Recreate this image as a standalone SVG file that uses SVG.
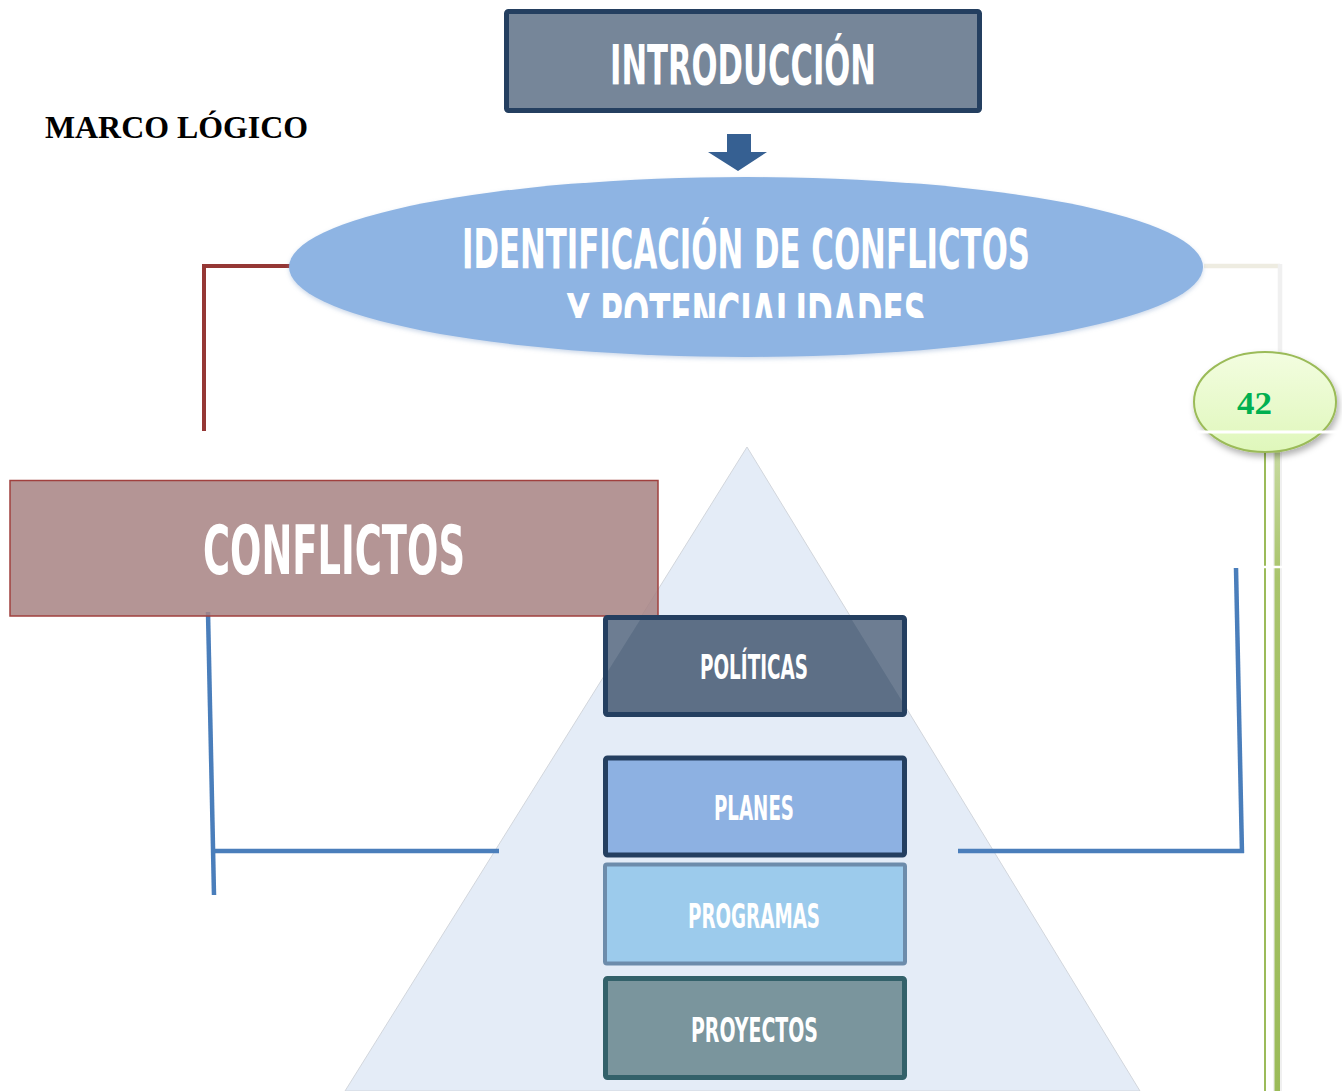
<svg xmlns="http://www.w3.org/2000/svg" width="1342" height="1091" viewBox="0 0 1342 1091">
<defs>
<style>
.cond{font-family:"DejaVu Sans Condensed","DejaVu Sans","Liberation Sans Narrow",sans-serif;font-stretch:condensed;font-weight:bold;fill:#ffffff;}
.box{stroke-width:5;}
.blue{stroke:#4a7ebb;stroke-width:4.5;fill:none;stroke-linecap:butt;}
</style>
<linearGradient id="gGreen" x1="0" y1="0" x2="0" y2="1">
<stop offset="0" stop-color="#f3fde0"/>
<stop offset="1" stop-color="#dff7bb"/>
</linearGradient>
<linearGradient id="gLine" gradientUnits="userSpaceOnUse" x1="0" y1="450" x2="0" y2="1091">
<stop offset="0" stop-color="#c7da9f"/>
<stop offset="0.2" stop-color="#a9c46c"/>
<stop offset="1" stop-color="#9bbb59"/>
</linearGradient>
<filter id="shadow" x="-20%" y="-20%" width="140%" height="150%">
<feDropShadow dx="2" dy="4" stdDeviation="3" flood-color="#000" flood-opacity="0.3"/>
</filter>
<filter id="soft" x="-5%" y="-10%" width="110%" height="125%">
<feDropShadow dx="0" dy="2" stdDeviation="2" flood-color="#7f9fc9" flood-opacity="0.4"/>
</filter>
<clipPath id="clipEll">
<rect x="280" y="170" width="940" height="148"/>
</clipPath>
</defs>
<rect width="1342" height="1091" fill="#ffffff"/>

<g id="triangle">
<polygon points="747,447 345,1091 1140,1091" fill="#e4ecf7" stroke="#d2d6dc" stroke-width="1"/>
</g>

<g id="connectors">
<polyline points="290,266 204,266 204,431" fill="none" stroke="#953735" stroke-width="4"/>
<polyline points="1204,266 1280,266" fill="none" stroke="#eeece1" stroke-width="4.5"/>
<line x1="1280" y1="264" x2="1280" y2="431" stroke="#f0f0f0" stroke-width="4.5"/>
<polyline class="blue" points="208,612 214,895"/>
<line class="blue" x1="212" y1="851" x2="499" y2="851"/>
<polyline class="blue" points="1236,568 1242,853"/>
<line class="blue" x1="958" y1="851" x2="1244" y2="851"/>
<polygon id="arrow" points="727,134 751,134 751,152 767,152 738,171 708,152 727,152" fill="#366092"/>
</g>

<g id="title">
<text x="45" y="138" font-family="'Liberation Serif','Times New Roman',serif" font-weight="bold" font-size="31" textLength="263" lengthAdjust="spacingAndGlyphs" fill="#000">MARCO LÓGICO</text>
</g>

<g id="introduccion">
<rect x="506.5" y="11.5" width="473" height="99" rx="2" fill="#768699" stroke="#243f60" class="box"/>
<text class="cond" x="610" y="84" font-size="56" textLength="266" lengthAdjust="spacingAndGlyphs">INTRODUCCIÓN</text>
</g>

<g id="identificacion">
<ellipse cx="746" cy="267" rx="457" ry="90" fill="#8eb4e3" filter="url(#soft)"/>
<g clip-path="url(#clipEll)">
<text class="cond" x="462" y="268" font-size="56" textLength="568" lengthAdjust="spacingAndGlyphs">IDENTIFICACIÓN DE CONFLICTOS</text>
<text class="cond" x="567" y="333" font-size="56" textLength="359" lengthAdjust="spacingAndGlyphs">Y POTENCIALIDADES</text>
</g>
</g>

<g id="pagina">
<rect x="1264" y="450" width="2" height="641" fill="#9bbb59"/>
<rect x="1273" y="450" width="9" height="641" fill="#e6e6e6" opacity="0.6"/>
<rect x="1274.5" y="450" width="5.5" height="641" fill="url(#gLine)"/>
<ellipse cx="1265" cy="402" rx="71" ry="50" fill="url(#gGreen)" stroke="#9bbb59" stroke-width="2" filter="url(#shadow)"/>
<text x="1237" y="414" font-family="'Liberation Serif','Times New Roman',serif" font-weight="bold" font-size="32" textLength="35" lengthAdjust="spacingAndGlyphs" fill="#00b050">42</text>
<line x1="1197" y1="432" x2="1342" y2="432" stroke="#ffffff" stroke-width="3"/>
<line x1="1258" y1="567" x2="1290" y2="567" stroke="#ffffff" stroke-width="2.5"/>
</g>

<g id="conflictos">
<rect x="10" y="480.5" width="648" height="135.5" fill="#a78383" fill-opacity="0.85" stroke="#a0403e" stroke-width="1.5"/>
<text class="cond" x="203" y="574" font-size="67" textLength="262" lengthAdjust="spacingAndGlyphs">CONFLICTOS</text>
</g>

<g id="politicas">
<rect x="605.5" y="617.5" width="299" height="97" rx="2" fill="#5d6f86" stroke="#243f60" class="box"/>
<polygon points="608,620 640,620 608,671" fill="#ffffff" opacity="0.1"/>
<polygon points="852,620 902,620 902,701" fill="#ffffff" opacity="0.1"/>
<text class="cond" x="700" y="679" font-size="33" textLength="108" lengthAdjust="spacingAndGlyphs">POLÍTICAS</text>
</g>

<g id="planes">
<rect x="605.5" y="758" width="299" height="97" rx="2" fill="#8db1e2" stroke="#243f60" class="box"/>
<text class="cond" x="714" y="820" font-size="33" textLength="80" lengthAdjust="spacingAndGlyphs">PLANES</text>
</g>

<g id="programas">
<rect x="605" y="864.5" width="300" height="99" rx="2" fill="#9ccbec" stroke="#6d8cab" stroke-width="4"/>
<text class="cond" x="688" y="928" font-size="34" textLength="132" lengthAdjust="spacingAndGlyphs">PROGRAMAS</text>
</g>

<g id="proyectos">
<rect x="605.5" y="978.5" width="299" height="99" rx="2" fill="#7a959d" stroke="#33616a" class="box"/>
<text class="cond" x="691" y="1042" font-size="34" textLength="127" lengthAdjust="spacingAndGlyphs">PROYECTOS</text>
</g>
</svg>
